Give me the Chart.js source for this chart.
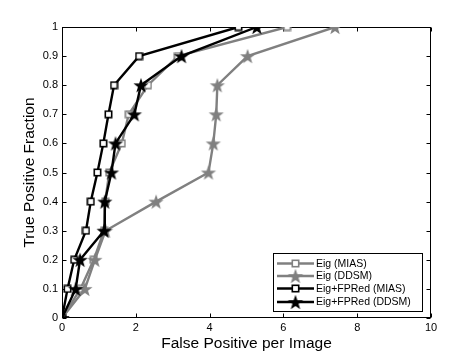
<!DOCTYPE html>
<html><head><meta charset="utf-8">
<script src="https://cdn.jsdelivr.net/npm/chart.js@4"></script>
<style>html,body{margin:0;padding:0;background:#fff}</style>
</head><body>
<canvas id="c" width="476" height="357" style="width:476px;height:357px;display:block"></canvas>
<script>
// ---- data ----
const tpFraction = [0,0.1,0.2,0.3,0.4,0.5,0.6,0.7,0.8,0.9,1];
const eigMIAS     = [0,0.50,0.86,1.14,1.17,1.28,1.62,1.81,2.33,3.14,6.10];
const eigDDSM     = [0,0.62,0.89,1.18,2.55,3.97,4.10,4.18,4.21,5.03,7.40];
const fpredMIAS   = [0,0.15,0.33,0.65,0.78,0.96,1.12,1.26,1.41,2.09,4.78];
const fpredDDSM   = [0,0.37,0.49,1.14,1.16,1.34,1.45,1.96,2.14,3.24,5.28];
const seriesNames = ['Eig (MIAS)','Eig (DDSM)','Eig+FPRed (MIAS)','Eig+FPRed (DDSM)'];
const xTicks = [0,2,4,6,8,10];
const yTicks = [0,0.1,0.2,0.3,0.4,0.5,0.6,0.7,0.8,0.9,1];
const xTitle = 'False Positive per Image';
const yTitle = 'True Positive Fraction';

const GRAY = '#808080', BLACK = '#000000';
const FONT = '"Liberation Sans", Arial, Helvetica, sans-serif';

function makeSquare(color){
  const c=document.createElement('canvas'); c.width=9; c.height=9;
  const g=c.getContext('2d'); g.fillStyle='#fff'; g.fillRect(1,1,7,7);
  g.strokeStyle=color; g.lineWidth=1.6; g.strokeRect(1.3,1.3,6.4,6.4);
  return c;
}
function makeStar(color){
  const R=8, r=3.2, s=18;
  const c=document.createElement('canvas'); c.width=s; c.height=s;
  const g=c.getContext('2d'); g.fillStyle=color; g.beginPath();
  for(let i=0;i<10;i++){
    const rad=(i%2===0)?R:r; const a=-Math.PI/2+i*Math.PI/5;
    const x=s/2+rad*Math.cos(a), y=s/2+0.8+rad*Math.sin(a);
    i?g.lineTo(x,y):g.moveTo(x,y);
  }
  g.closePath(); g.fill();
  return c;
}
const markers=[makeSquare(GRAY),makeStar(GRAY),makeSquare(BLACK),makeStar(BLACK)];
const colors=[GRAY,GRAY,BLACK,BLACK];
const xs=[eigMIAS,eigDDSM,fpredMIAS,fpredDDSM];

const datasets = xs.map((arr,i)=>({
  label: seriesNames[i],
  data: arr.map((v,j)=>({x:v,y:tpFraction[j]})),
  showLine:true,
  borderColor: colors[i],
  backgroundColor: colors[i],
  borderWidth: 2.4,
  pointStyle: markers[i],
  pointRadius: 5,
  pointHoverRadius: 5,
  order: 4-i
}));

const boxPlugin = {
  id:'box',
  beforeDatasetsDraw(chart){
    const {ctx, chartArea:a, scales:{x,y}} = chart;
    ctx.save(); ctx.strokeStyle='#000'; ctx.lineWidth=1;
    const L=Math.round(a.left)+0.5, R=Math.round(a.right)-0.5, T=Math.round(a.top)+0.5, B=Math.round(a.bottom)-0.5;
    ctx.strokeRect(L,T,R-L,B-T);
    ctx.beginPath();
    xTicks.forEach(v=>{const px=Math.round(x.getPixelForValue(v))+0.5;
      ctx.moveTo(px,B); ctx.lineTo(px,B-4); ctx.moveTo(px,T); ctx.lineTo(px,T+4);});
    yTicks.forEach(v=>{const py=Math.round(y.getPixelForValue(v))+0.5;
      ctx.moveTo(L,py); ctx.lineTo(L+4,py); ctx.moveTo(R,py); ctx.lineTo(R-4,py);});
    ctx.stroke(); ctx.restore();
  },
  afterDraw(chart){
    const ctx=chart.ctx; ctx.save();
    const bx=273.5, by=253.5, bw=149, bh=58;
    ctx.fillStyle='#fff'; ctx.fillRect(bx,by,bw,bh);
    ctx.strokeStyle='#000'; ctx.lineWidth=1; ctx.strokeRect(bx,by,bw,bh);
    const rows=[263.5,276,288.5,302];
    ctx.font='10.5px '+FONT; ctx.textBaseline='middle'; ctx.textAlign='left';
    seriesNames.forEach((n,i)=>{
      const yy=rows[i];
      ctx.strokeStyle=colors[i]; ctx.lineWidth=2.4;
      ctx.beginPath(); ctx.moveTo(277,yy); ctx.lineTo(314,yy); ctx.stroke();
      const m=markers[i]; ctx.drawImage(m,295.5-m.width/2,yy-m.height/2);
      ctx.fillStyle='#000'; ctx.fillText(n,316,yy+0.5);
    });
    ctx.restore();
  }
};

new Chart(document.getElementById('c'),{
  type:'scatter',
  data:{datasets},
  plugins:[boxPlugin],
  options:{
    responsive:false, animation:false,
    layout:{padding:{left:0,right:45,top:27,bottom:0}},
    plugins:{legend:{display:false},tooltip:{enabled:false}},
    scales:{
      x:{type:'linear',min:0,max:10,
        afterBuildTicks(s){s.ticks=xTicks.map(v=>({value:v}));},
        afterFit(s){s.height=39;},
        grid:{display:false,drawTicks:false},border:{display:false},
        ticks:{color:'#000',padding:3,font:{family:FONT,size:11},maxRotation:0,callback:v=>String(v)},
        title:{display:true,text:xTitle,color:'#000',font:{family:FONT,size:15.5},padding:{top:0,bottom:4}}
      },
      y:{type:'linear',min:0,max:1,
        afterBuildTicks(s){s.ticks=yTicks.map(v=>({value:v}));},
        afterFit(s){s.width=62;},
        grid:{display:false,drawTicks:false},border:{display:false},
        ticks:{color:'#000',padding:4,font:{family:FONT,size:11},callback:v=>String(v)},
        title:{display:true,text:yTitle,color:'#000',font:{family:FONT,size:15.5},padding:{top:20,bottom:0}}
      }
    }
  }
});
</script>
</body></html>
